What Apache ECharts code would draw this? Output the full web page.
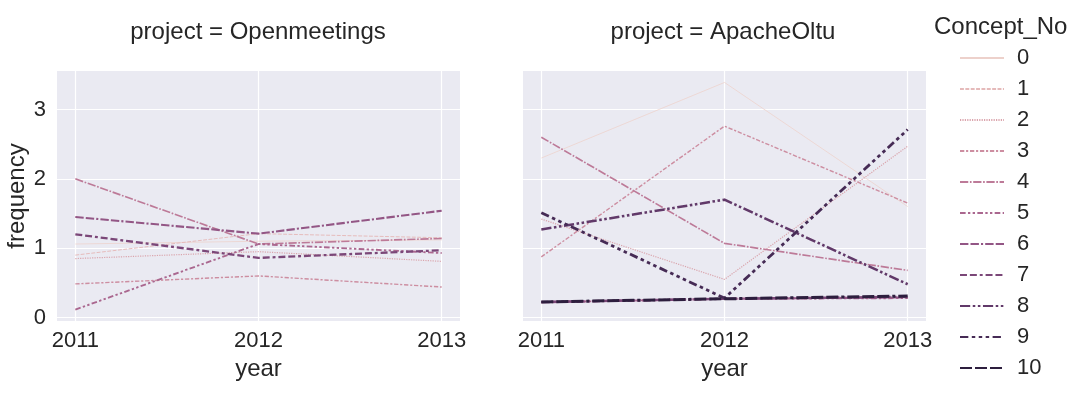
<!DOCTYPE html>
<html>
<head>
<meta charset="utf-8">
<script src="https://cdn.jsdelivr.net/npm/echarts@6/dist/echarts.min.js"></script>
<style>
  html, body { margin: 0; padding: 0; background: #fff; }
  #chart { width: 1083px; height: 395px; }
</style>
</head>
<body>
<div id="chart"></div>
<script>
  // years on the x axis
  var years = [2011, 2012, 2013];
  var concepts = ['0', '1', '2', '3', '4', '5', '6', '7', '8', '9', '10'];
  var panels = ['Openmeetings', 'ApacheOltu'];
  var yTicks = [0, 1, 2, 3];

  // frequency per concept, one value per year (null = concept not present)
  var openmeetings = [
    [1.06, 1.10, 1.12],
    [0.90, 1.21, 1.15],
    [0.85, 0.95, 0.81],
    [0.485, 0.60, 0.44],
    [2.00, 1.06, 1.14],
    [0.115, 1.06, 0.93],
    [1.45, 1.21, 1.54],
    [1.20, 0.86, 0.97],
    null,
    null,
    null
  ];
  var apacheOltu = [
    [2.30, 3.39, 1.60],
    null,
    [1.42, 0.55, 2.47],
    [0.875, 2.76, 1.65],
    [2.60, 1.07, 0.68],
    [0.22, 0.27, 0.28],
    [0.22, 0.27, 0.29],
    [0.225, 0.27, 0.30],
    [1.27, 1.70, 0.48],
    [1.51, 0.28, 2.71],
    [0.225, 0.27, 0.31]
  ];

  // cubehelix colours (seaborn default for numeric hue)
  var colors = ['#edd1cb', '#e5baba', '#daa4ac', '#cd8ea1', '#bd7a98', '#aa678f',
                '#935685', '#7b4778', '#613969', '#462b55', '#2d1e3e'];
  // seaborn dash specs, scaled by line width below
  var dashes = [null, [4, 1.5], [1, 1], [3, 1.25, 1.5, 1.25], [5, 1, 1, 1],
                [3, 1.25, 1.25, 1.25, 1.25, 1.25], [4, 1, 4, 1, 1, 1],
                [3, 1.25, 3, 1.25, 1.25, 1.25], [4, 1, 1, 1, 1, 1],
                [3, 1.25, 1.25, 1.25, 1.25, 1.25, 1.25, 1.25], [4, 1, 4, 1, 4, 1, 1, 1]];

  var font = "'Liberation Sans', Arial, sans-serif";
  var textColor = '#262626';

  function lineWidth (i) {
    return 0.75 + 0.225 * i;
  }

  function lineType (i) {
    if (!dashes[i]) return 'solid';
    var w = lineWidth(i);
    return dashes[i].map(function (d) { return d * w; });
  }

  var series = [];
  [openmeetings, apacheOltu].forEach(function (panel, p) {
    panel.forEach(function (vals, i) {
      if (!vals) return;
      series.push({
        name: concepts[i],
        type: 'line',
        xAxisIndex: p,
        yAxisIndex: p,
        symbol: 'none',
        silent: true,
        z: 2 + i,
        color: colors[i],
        lineStyle: { color: colors[i], width: lineWidth(i), type: lineType(i), join: 'round' },
        data: years.map(function (y, k) { return [y, vals[k]]; })
      });
    });
  });

  var grids = [
    { left: 57, top: 71, width: 403, height: 250 },
    { left: 523, top: 71, width: 403, height: 250 }
  ];

  function xAxis (i) {
    return {
      type: 'value', gridIndex: i, min: 2010.9, max: 2013.1,
      name: 'year', nameLocation: 'middle', nameGap: 31,
      nameTextStyle: { fontSize: 24, color: textColor, fontFamily: font },
      axisLine: { show: false },
      axisTick: { show: false, customValues: years },
      axisLabel: { customValues: years, fontSize: 22, color: textColor, fontFamily: font, margin: 9,
                   formatter: function (v) { return String(v); } },
      splitLine: { show: true, customValues: years, lineStyle: { color: '#fff', width: 1.2 } }
    };
  }

  function yAxis (i) {
    return {
      type: 'value', gridIndex: i, min: -0.05, max: 3.555,
      name: i === 0 ? 'frequency' : '', nameLocation: 'middle', nameGap: 22,
      nameTextStyle: { fontSize: 24, color: textColor, fontFamily: font },
      axisLine: { show: false },
      axisTick: { show: false, customValues: yTicks },
      axisLabel: { show: i === 0, customValues: yTicks, fontSize: 22, color: textColor, fontFamily: font, margin: 11 },
      splitLine: { show: true, customValues: yTicks, lineStyle: { color: '#fff', width: 1.2 } }
    };
  }

  var chart = echarts.init(document.getElementById('chart'), null, { renderer: 'canvas' });
  chart.setOption({
    backgroundColor: '#fff',
    animation: false,
    title: [
      { text: 'project = ' + panels[0], left: 253, top: 15, textAlign: 'center',
        textStyle: { fontSize: 24, fontWeight: 'normal', color: textColor, fontFamily: font } },
      { text: 'project = ' + panels[1], left: 718, top: 15, textAlign: 'center',
        textStyle: { fontSize: 24, fontWeight: 'normal', color: textColor, fontFamily: font } },
      { text: 'Concept_No', left: 929, top: 10,
        textStyle: { fontSize: 24, fontWeight: 'normal', color: textColor, fontFamily: font } }
    ],
    grid: grids.map(function (g) {
      return { left: g.left, top: g.top, width: g.width, height: g.height,
               show: true, backgroundColor: '#eaeaf2', borderWidth: 0 };
    }),
    xAxis: [xAxis(0), xAxis(1)],
    yAxis: [yAxis(0), yAxis(1)],
    legend: {
      data: concepts,
      orient: 'vertical',
      left: 954,
      top: 42,
      height: 350,
      itemWidth: 44,
      itemHeight: 20,
      itemGap: 9,
      selectedMode: false,
      itemStyle: { opacity: 0 },
      textStyle: { fontSize: 22, color: textColor, fontFamily: font, padding: [0, 0, 0, 8] }
    },
    series: series
  });
</script>
</body>
</html>
